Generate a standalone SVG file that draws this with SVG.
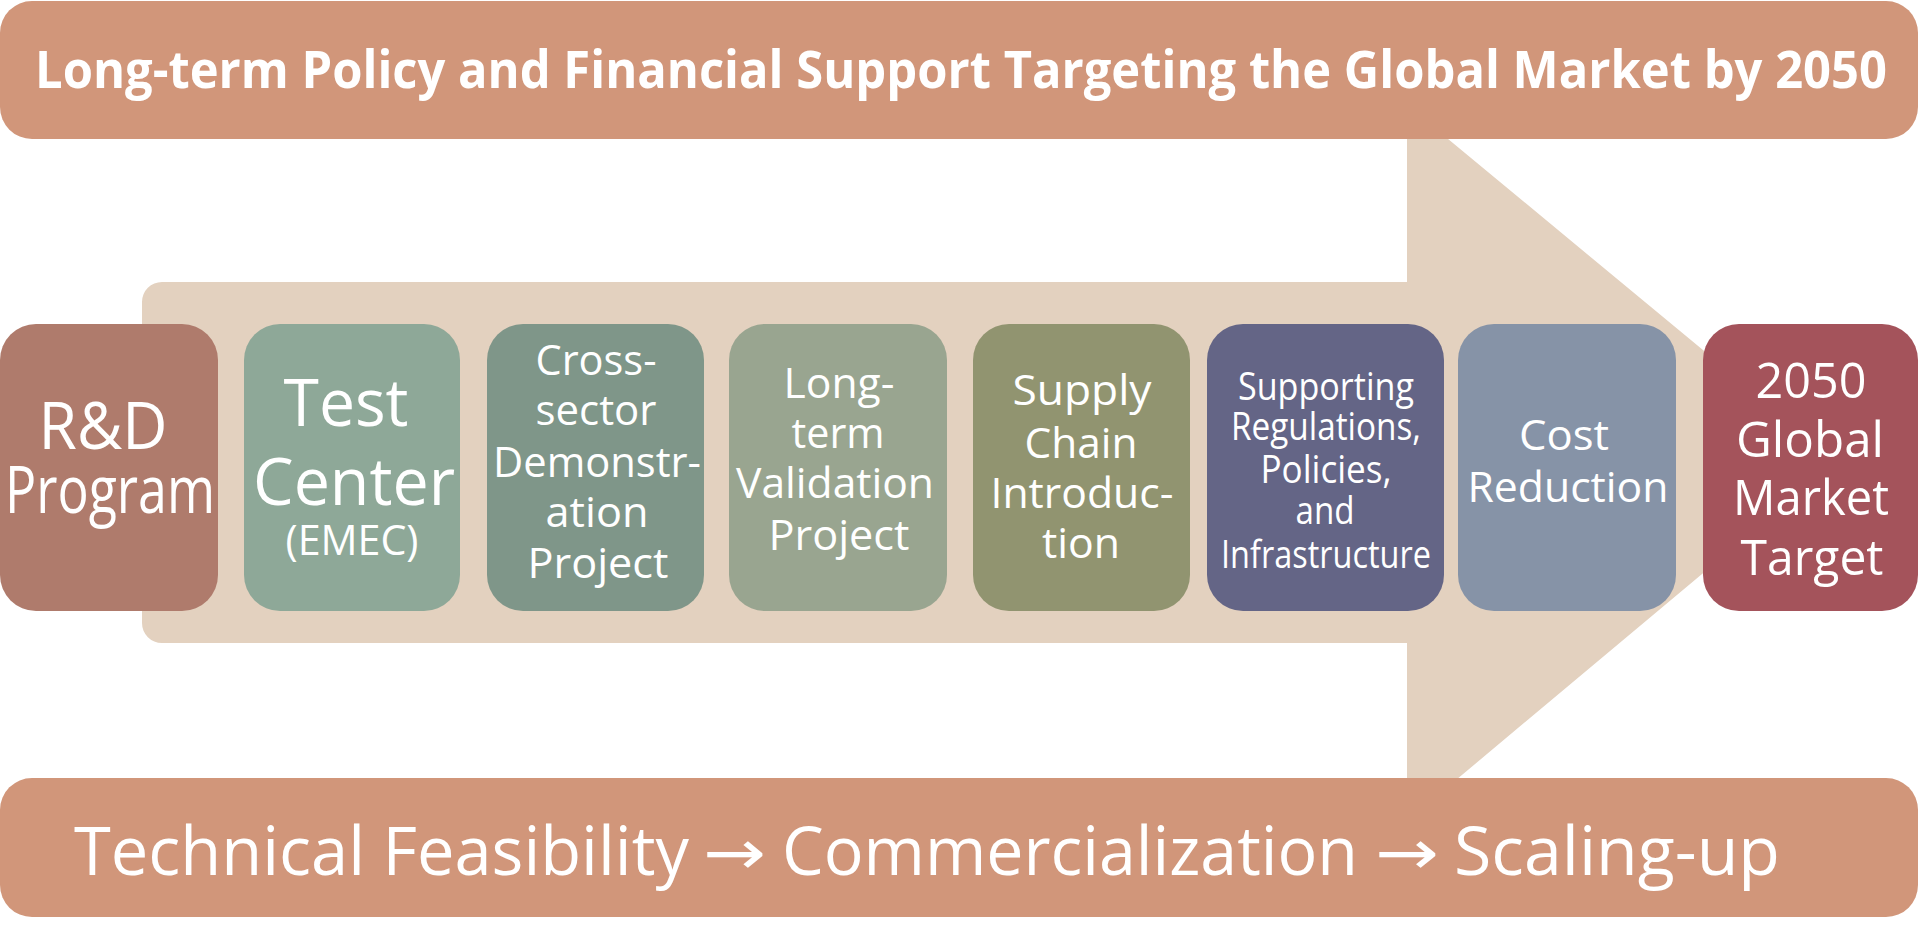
<svg xmlns="http://www.w3.org/2000/svg" width="1920" height="944" viewBox="0 0 1920 944">
<style>
.banner{fill:#D1967A}
.arrow{fill:#E3D1BF}
.t{font-family:"Open Sans","Noto Sans","Liberation Sans",sans-serif;fill:#FFFFFF;text-anchor:middle;}
.title{font-family:"Open Sans","Noto Sans","Liberation Sans",sans-serif;fill:#FFFFFF;font-weight:700;font-size:52px;}
.sub{font-family:"Open Sans","Noto Sans","Liberation Sans",sans-serif;fill:#FFFFFF;font-size:67px;}
.ar{font-family:"DejaVu Sans",sans-serif;fill:#FFFFFF;font-size:62px;}
.f65{font-size:65px}
.f42{font-size:42px}
.f38{font-size:38px}
.f50{font-size:50px}
</style>
<rect width="1920" height="944" fill="#FFFFFF"/>
<g id="big-arrow">
<path class="arrow" d="M162,282 H1407 V105 L1837,461 L1407,821 V643 H162 A20,20 0 0 1 142,623 V302 A20,20 0 0 1 162,282 Z"/>
</g>
<g id="top-banner">
<rect class="banner" x="0" y="1" width="1918" height="138" rx="32" ry="32"/>
<text class="title" x="35" y="88" textLength="1852" lengthAdjust="spacingAndGlyphs">Long-term Policy and Financial Support Targeting the Global Market by 2050</text>
</g>
<g id="bottom-banner">
<rect class="banner" x="0" y="778" width="1918" height="139" rx="32" ry="32"/>
<text class="sub" x="74" y="875" textLength="615" lengthAdjust="spacingAndGlyphs">Technical Feasibility</text>
<text class="ar" x="703" y="874" textLength="63" lengthAdjust="spacingAndGlyphs">→</text>
<text class="sub" x="782" y="875" textLength="576" lengthAdjust="spacingAndGlyphs">Commercialization</text>
<text class="ar" x="1375" y="874" textLength="64" lengthAdjust="spacingAndGlyphs">→</text>
<text class="sub" x="1454" y="875" textLength="326" lengthAdjust="spacingAndGlyphs">Scaling-up</text>
</g>
<g id="connectors"></g>
<g id="node-rd">
<rect x="0" y="324" width="218" height="287" rx="36" ry="36" fill="#AF7B6C"/>
<text class="t f65" x="103" y="449" textLength="129" lengthAdjust="spacingAndGlyphs">R&amp;D</text>
<text class="t f65" x="110" y="513" textLength="210" lengthAdjust="spacingAndGlyphs">Program</text>
</g>
<g id="node-test">
<rect x="244" y="324" width="216" height="287" rx="36" ry="36" fill="#8EA898"/>
<text class="t f65" x="346" y="426" textLength="125" lengthAdjust="spacingAndGlyphs">Test</text>
<text class="t f65" x="354" y="505" textLength="202" lengthAdjust="spacingAndGlyphs">Center</text>
<text class="t f42" x="352" y="555" textLength="133" lengthAdjust="spacingAndGlyphs">(EMEC)</text>
</g>
<g id="node-cross">
<rect x="487" y="324" width="217" height="287" rx="36" ry="36" fill="#7F9689"/>
<text class="t f42" x="596" y="375" textLength="121" lengthAdjust="spacingAndGlyphs">Cross-</text>
<text class="t f42" x="596" y="425" textLength="121" lengthAdjust="spacingAndGlyphs">sector</text>
<text class="t f42" x="597" y="477" textLength="208" lengthAdjust="spacingAndGlyphs">Demonstr-</text>
<text class="t f42" x="597" y="527" textLength="103" lengthAdjust="spacingAndGlyphs">ation</text>
<text class="t f42" x="598" y="578" textLength="141" lengthAdjust="spacingAndGlyphs">Project</text>
</g>
<g id="node-long">
<rect x="729" y="324" width="218" height="287" rx="36" ry="36" fill="#99A590"/>
<text class="t f42" x="839" y="398" textLength="111" lengthAdjust="spacingAndGlyphs">Long-</text>
<text class="t f42" x="838" y="448" textLength="93" lengthAdjust="spacingAndGlyphs">term</text>
<text class="t f42" x="835" y="498" textLength="198" lengthAdjust="spacingAndGlyphs">Validation</text>
<text class="t f42" x="839" y="550" textLength="141" lengthAdjust="spacingAndGlyphs">Project</text>
</g>
<g id="node-supply">
<rect x="973" y="324" width="217" height="287" rx="36" ry="36" fill="#919470"/>
<text class="t f42" x="1082" y="405" textLength="139" lengthAdjust="spacingAndGlyphs">Supply</text>
<text class="t f42" x="1081" y="458" textLength="113" lengthAdjust="spacingAndGlyphs">Chain</text>
<text class="t f42" x="1082" y="508" textLength="183" lengthAdjust="spacingAndGlyphs">Introduc-</text>
<text class="t f42" x="1081" y="558" textLength="78" lengthAdjust="spacingAndGlyphs">tion</text>
</g>
<g id="node-supporting">
<rect x="1207" y="324" width="237" height="287" rx="36" ry="36" fill="#646586"/>
<text class="t f38" x="1326" y="400" textLength="176" lengthAdjust="spacingAndGlyphs">Supporting</text>
<text class="t f38" x="1326" y="440" textLength="190" lengthAdjust="spacingAndGlyphs">Regulations,</text>
<text class="t f38" x="1326" y="483" textLength="131" lengthAdjust="spacingAndGlyphs">Policies,</text>
<text class="t f38" x="1325" y="524" textLength="59" lengthAdjust="spacingAndGlyphs">and</text>
<text class="t f38" x="1326" y="568" textLength="210" lengthAdjust="spacingAndGlyphs">Infrastructure</text>
</g>
<g id="node-cost">
<rect x="1458" y="324" width="218" height="287" rx="36" ry="36" fill="#8693A7"/>
<text class="t f42" x="1564" y="450" textLength="90" lengthAdjust="spacingAndGlyphs">Cost</text>
<text class="t f42" x="1568" y="502" textLength="201" lengthAdjust="spacingAndGlyphs">Reduction</text>
</g>
<g id="node-2050">
<rect x="1703" y="324" width="215" height="287" rx="36" ry="36" fill="#A4535B"/>
<text class="t f50" x="1811" y="398" textLength="111" lengthAdjust="spacingAndGlyphs">2050</text>
<text class="t f50" x="1810" y="457" textLength="148" lengthAdjust="spacingAndGlyphs">Global</text>
<text class="t f50" x="1811" y="515" textLength="156" lengthAdjust="spacingAndGlyphs">Market</text>
<text class="t f50" x="1812" y="575" textLength="143" lengthAdjust="spacingAndGlyphs">Target</text>
</g>
</svg>
